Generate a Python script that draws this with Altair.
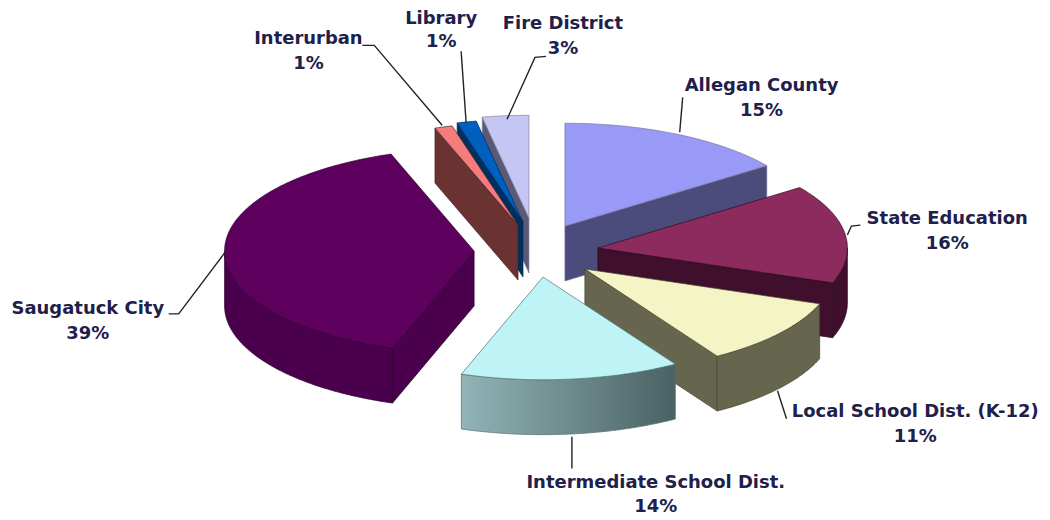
import numpy as np
import pandas as pd
import altair as alt

# Categories and values
categories = ["Allegan County", "State Education", "Local School Dist. (K-12)",
              "Intermediate School Dist.", "Saugatuck City", "Interurban", "Library", "Fire District"]
printed_pct = [15, 16, 11, 14, 39, 1, 1, 3]
# shares (printed labels are rounded)
shares = [15.0, 15.5, 10.6, 14.2, 39.3, 1.15, 1.25, 3.0]

# Styles
top_colors = ["#9999F7", "#8E2B5E", "#F4F4C4", "#BEF4F5", "#5E005E", "#F57C7C", "#0060C0", "#C6C6F5"]
side_colors = ["#4C4C7C", "#400F2C", "#66664E", "#8FB0B2", "#4A004C", "#6B3232", "#003060", "#5A5A78"]
edge_colors = ["#77779A", "#2A0A1C", "#44442F", "#4F6F70", "#2A002A", "#442424", "#002850", "#8888A0"]

# Exploded slice centres (image pixels)
centers_x = [565, 598, 585, 543, 474, 518, 523, 529]
centers_y = [225, 247, 268, 276, 250, 224, 221, 217]
RX, RY, DEPTH = 250, 103, 55

# Labels: centre of each text line, image pixels
label_x = [762, 948, 916, 656, 87, 308, 441, 563]
name_y = [85, 218, 411, 482, 308, 38, 18, 23]
pct_y = [110, 243, 436, 506, 333, 63, 41, 48]

leaders = [
    [(683, 96), (680, 131)],
    [(848, 234), (852, 225), (861, 224)],
    [(778, 390), (787, 418)],
    [(572, 436), (572, 468)],
    [(224, 252), (178, 313), (168, 313)],
    [(362, 44), (374, 44), (442, 124)],
    [(461, 50), (466, 121)],
    [(546, 55), (535, 56), (507, 118)],
]

X = alt.X("x:Q", scale=alt.Scale(domain=[7, 1043]), axis=None)
Y = alt.Y("y:Q", scale=alt.Scale(domain=[515, 7]), axis=None)


def arc_pts(cx, cy, a0, a1, dz=0.0):
    n = max(2, int(abs(a1 - a0) * 1.5))
    aa = np.radians(np.linspace(a0, a1, n))
    return list(zip(cx + RX * np.sin(aa), cy - RY * np.cos(aa) + dz))


def polygon(pts, fill, stroke, sw=0.7):
    pts = list(pts) + [pts[0]]
    df = pd.DataFrame({"x": [p[0] for p in pts], "y": [p[1] for p in pts], "i": range(len(pts))})
    return alt.Chart(df).mark_line(fill=fill, stroke=stroke, strokeWidth=sw, strokeJoin="round").encode(
        x=X, y=Y, order=alt.Order("i:Q"))


cum = np.concatenate([[0], np.cumsum(shares)]) * 3.6
starts, ends = cum[:-1], cum[1:]


def slice_layers(k):
    cx, cy = centers_x[k], centers_y[k]
    a0, a1 = starts[k], ends[k]
    out = []
    side = side_colors[k]
    edge = edge_colors[k]
    if 0 < a1 < 180:  # closing radial face
        p = arc_pts(cx, cy, a1, a1)[0]
        out.append(polygon([(cx, cy), p, (p[0], p[1] + DEPTH), (cx, cy + DEPTH)], side, edge))
    if 180 < a0 < 360:  # opening radial face
        p = arc_pts(cx, cy, a0, a0)[0]
        out.append(polygon([(cx, cy), p, (p[0], p[1] + DEPTH), (cx, cy + DEPTH)], side, edge))
    w0, w1 = max(a0, 90), min(a1, 270)
    if w1 > w0:  # outer wall
        upper = arc_pts(cx, cy, w0, w1)
        lower = arc_pts(cx, cy, w1, w0, DEPTH)
        fill = side
        if categories[k].startswith("Intermediate"):
            fill = alt.Gradient(gradient="linear", x1=0, y1=0, x2=1, y2=0,
                                stops=[alt.GradientStop(color="#92B4B6", offset=0),
                                       alt.GradientStop(color="#4A6264", offset=1)])
        out.append(polygon(upper + lower, fill, edge))
    top = [(cx, cy)] + arc_pts(cx, cy, a0, a1)
    out.append(polygon(top, top_colors[k], edge))
    return out


draw_order = [0, 7, 6, 5, 4, 1, 2, 3]
layers = []
for k in draw_order:
    layers += slice_layers(k)

for path in leaders:
    df = pd.DataFrame({"x": [p[0] for p in path], "y": [p[1] for p in path], "i": range(len(path))})
    layers.append(alt.Chart(df).mark_line(color="#222222", strokeWidth=1.4).encode(
        x=X, y=Y, order=alt.Order("i:Q")))

text_df = pd.DataFrame({
    "x": label_x + label_x,
    "y": name_y + pct_y,
    "t": categories + [f"{v}%" for v in printed_pct],
})
layers.append(alt.Chart(text_df).mark_text(
    font="DejaVu Sans", fontWeight="bold", fontSize=18, color="#20204A",
    align="center", baseline="middle").encode(x=X, y=Y, text="t:N"))

chart = alt.layer(*layers).properties(
    width=1036, height=508, padding=0, autosize=alt.AutoSizeParams(type="none")
).configure_view(stroke=None)
chart.save("out.html", embed_options={"renderer": "svg", "actions": False})
